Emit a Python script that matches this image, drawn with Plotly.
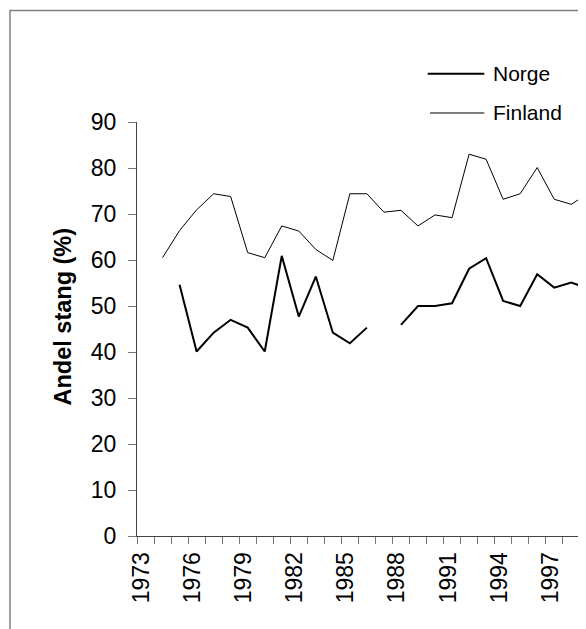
import plotly.graph_objects as go

years = list(range(1973, 2000))
norge = [None, None, 54.6, 40.1, 44.2, 47.0, 45.3, 40.1, 60.9, 47.7, 56.4, 44.2, 41.9, 45.3,
         None, 45.9, 50.0, 50.0, 50.6, 58.1, 60.4, 51.1, 50.0, 56.9, 54.0, 55.1, 53.8]
finland = [None, 60.5, 66.4, 70.9, 74.4, 73.8, 61.6, 60.5, 67.4, 66.3, 62.3, 59.9, 74.4, 74.4,
           70.4, 70.8, 67.4, 69.8, 69.2, 83.0, 81.9, 73.2, 74.4, 80.1, 73.2, 72.1, 74.5]
label_years = [1973, 1976, 1979, 1982, 1985, 1988, 1991, 1994, 1997]
y_ticks = list(range(0, 100, 10))

OFF = 8  # page body margin
W, H = 586 - OFF, 629 - OFF
L, R, T = 137 - OFF, 0, 122.3 - OFF
B = H - (535.7 - OFF)
pw = W - L - R
ph = H - T - B
year_px = 17.03

font = "Liberation Sans, Arial, sans-serif"

fig = go.Figure()
fig.add_trace(go.Scatter(x=years, y=norge, mode="lines", name="Norge",
                         line=dict(color="black", width=2), connectgaps=False))
fig.add_trace(go.Scatter(x=years, y=finland, mode="lines", name="Finland",
                         line=dict(color="black", width=1), connectgaps=False))

x0 = 1972.5
x1 = x0 + pw / year_px

fig.update_layout(
    width=W, height=H,
    margin=dict(l=L, r=R, t=T, b=B, pad=0),
    paper_bgcolor="white", plot_bgcolor="white",
    showlegend=False,
    font=dict(family=font, size=23, color="black"),
    xaxis=dict(
        range=[x0, x1], showgrid=False, zeroline=False,
        showline=True, linecolor="#444", linewidth=1,
        tickmode="array", tickvals=label_years, ticktext=[str(y) for y in label_years],
        ticks="", tickangle=-90, tickfont=dict(size=23),
        ticklabelshift=-4, ticklabelstandoff=6,
        minor=dict(tickmode="linear", tick0=1972.5, dtick=1, ticks="outside",
                   ticklen=7, tickcolor="#777", tickwidth=1),
    ),
    yaxis=dict(
        range=[0, 90], showgrid=False, zeroline=False,
        showline=True, linecolor="#444", linewidth=1,
        tickmode="array", tickvals=y_ticks,
        ticks="outside", ticklen=8, tickcolor="#777", tickwidth=1,
        tickfont=dict(size=23), ticklabelstandoff=7,
    ),
)

def px_x(p):
    return (p - OFF - L) / pw

def px_y(p):
    return (H - B - (p - OFF)) / ph

# y-axis title
fig.add_annotation(text="<b>Andel stang (%)</b>", xref="paper", yref="paper",
                   x=px_x(62.5), y=px_y(317), xanchor="center", yanchor="middle",
                   textangle=-90, showarrow=False, font=dict(size=23.5, family=font))

# frame border
fig.add_shape(type="rect", xref="paper", yref="paper",
              x0=px_x(10), x1=px_x(700), y0=px_y(800), y1=px_y(11),
              line=dict(color="#808080", width=1.5), layer="above")

# legend
for name, ypix, xa, w in [("Norge", 74, 427.7, 2), ("Finland", 113.3, 430, 1)]:
    fig.add_shape(type="line", xref="paper", yref="paper",
                  x0=px_x(xa), x1=px_x(484.3), y0=px_y(ypix), y1=px_y(ypix),
                  line=dict(color="black", width=w))
    fig.add_annotation(text=name, xref="paper", yref="paper",
                       x=px_x(491), y=px_y(ypix), xanchor="left", yanchor="middle",
                       showarrow=False, font=dict(size=21, family=font))

fig.write_html("out.html")
